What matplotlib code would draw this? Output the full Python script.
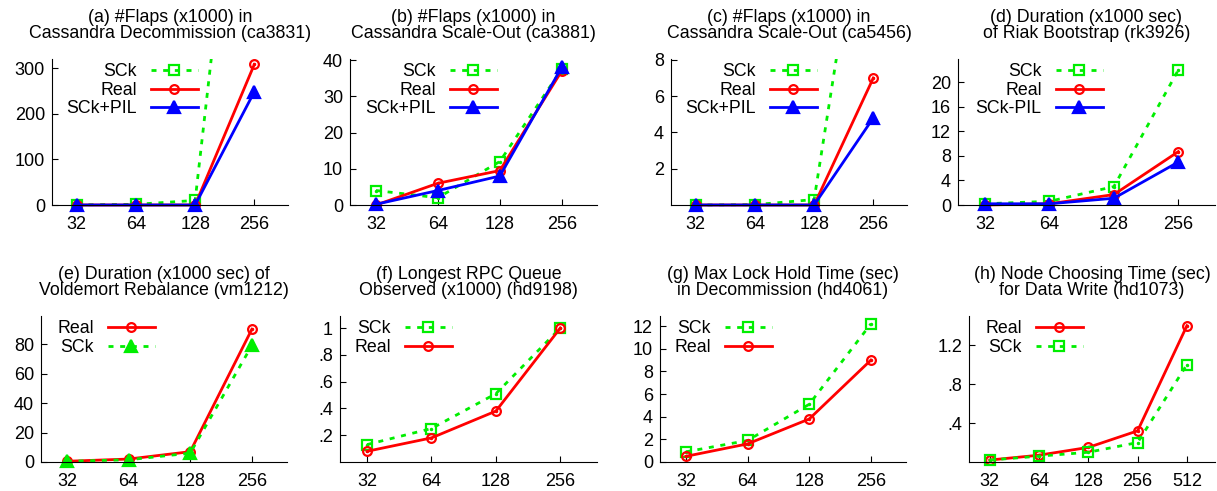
import matplotlib.pyplot as plt
from matplotlib.patches import Rectangle

plt.rcParams["font.family"] = ["Liberation Sans", "DejaVu Sans"]
plt.rcParams["font.size"] = 13

W, H = 1217, 491
TITLE_SIZE = 12.8
LEGEND_SIZE = 12.8

SIZES4 = ["32", "64", "128", "256"]
SIZES5 = ["32", "64", "128", "256", "512"]

# (a) ca3831
CA3831_SCK = [0.5, 1.5, 10, 1150]
CA3831_REAL = [0, 0, 0, 308]
CA3831_PIL = [0, 0, 0, 248]
# (b) ca3881
CA3881_SCK = [4, 2, 12, 37.5]
CA3881_REAL = [0, 6, 9.5, 37]
CA3881_PIL = [0.2, 4, 8, 38]
# (c) ca5456
CA5456_SCK = [0, 0.02, 0.3, 21]
CA5456_REAL = [0, 0, 0, 7]
CA5456_PIL = [0, 0, 0, 4.8]
# (d) rk3926
RK3926_SCK = [0.2, 0.6, 3.0, 22]
RK3926_REAL = [0.0, 0.2, 1.7, 8.7]
RK3926_PIL = [0.2, 0.2, 1.1, 7.0]
# (e) vm1212
VM1212_REAL = [0.5, 2, 7, 90]
VM1212_SCK = [0.5, 1.5, 6, 79]
# (f) hd9198
HD9198_SCK = [0.13, 0.25, 0.51, 1.0]
HD9198_REAL = [0.08, 0.18, 0.38, 1.0]
# (g) hd4061
HD4061_SCK = [0.9, 1.9, 5.1, 12.2]
HD4061_REAL = [0.5, 1.6, 3.8, 9.0]
# (h) hd1073
HD1073_REAL = [0.02, 0.07, 0.15, 0.32, 1.4]
HD1073_SCK = [0.02, 0.06, 0.10, 0.20, 1.0]

GREEN = "#00ee00"
RED = "#ff0000"
BLUE = "#0000ff"

STYLES = {
    "sck": dict(color=GREEN, marker="s", mfc="none", ms=7, dashes=(1.8, 2.4), dot=True),
    "sck_tri": dict(color=GREEN, marker="^", mfc=GREEN, ms=8, dashes=(1.8, 2.4), dot=False),
    "real": dict(color=RED, marker="o", mfc="none", ms=6.3, dashes=None, dot=True),
    "pil": dict(color=BLUE, marker="^", mfc=BLUE, ms=8, dashes=None, dot=False),
}


def draw_panel(fig, box, title, labels, series, ylim, yticks, yticklabels, legend_right):
    left, right, top, bottom = box
    ax = fig.add_axes([left / W, 1 - bottom / H, (right - left) / W, (bottom - top) / H])
    xs = list(range(len(labels)))
    # clip only above the plot area so markers sitting on y=0 stay whole
    clip = Rectangle((-0.1, -0.1), 1.2, 1.1, transform=ax.transAxes)
    for name, values, key in series:
        st = STYLES[key]
        (line,) = ax.plot(xs, values, color=st["color"], lw=2.0, marker=st["marker"],
                          mfc=st["mfc"], mec=st["color"], ms=st["ms"], mew=1.6,
                          label=name)
        if st["dashes"]:
            line.set_dashes(st["dashes"])
        line.set_clip_path(clip)
        if st["dot"]:
            (dot,) = ax.plot(xs, values, ls="none", marker="o", ms=1.5, color=st["color"])
            dot.set_clip_path(clip)
    ax.set_xlim(-0.42, len(labels) - 1 + 0.57)
    ax.set_ylim(*ylim)
    ax.set_xticks(xs)
    ax.set_xticklabels(labels)
    ax.set_yticks(yticks)
    ax.set_yticklabels(yticklabels)
    ax.tick_params(direction="in", length=4, width=0.8)
    ax.tick_params(axis="x", pad=8)
    ax.tick_params(axis="y", pad=5)
    ax.spines["top"].set_visible(False)
    ax.spines["right"].set_visible(False)
    ax.set_title(title, fontsize=TITLE_SIZE, pad=15, linespacing=0.95)
    borderpad = 0.25
    pad_px = borderpad * LEGEND_SIZE * 100 / 72
    anchor_x = (legend_right + pad_px - left) / (right - left)
    ax.legend(loc="upper right", bbox_to_anchor=(anchor_x, 1.0), frameon=False,
              fontsize=LEGEND_SIZE, markerfirst=False, handlelength=2.65,
              borderpad=borderpad, labelspacing=0.08, handletextpad=0.8,
              borderaxespad=0.0)
    return ax


def main() -> None:
    fig = plt.figure(figsize=(W / 100, H / 100), dpi=100)
    r1 = (59, 205)
    r2 = (316, 462)

    draw_panel(fig, (52, 288) + r1, "(a) #Flaps (x1000) in\nCassandra Decommission (ca3831)",
               SIZES4, [("SCk", CA3831_SCK, "sck"), ("Real", CA3831_REAL, "real"),
                        ("SCk+PIL", CA3831_PIL, "pil")],
               (0, 320), [0, 100, 200, 300], ["0", "100", "200", "300"], 198)
    draw_panel(fig, (350, 597) + r1, "(b) #Flaps (x1000) in\nCassandra Scale-Out (ca3881)",
               SIZES4, [("SCk", CA3881_SCK, "sck"), ("Real", CA3881_REAL, "real"),
                        ("SCk+PIL", CA3881_PIL, "pil")],
               (0, 40.3), [0, 10, 20, 30, 40], ["0", "10", "20", "30", "40"], 497)
    draw_panel(fig, (671, 907) + r1, "(c) #Flaps (x1000) in\nCassandra Scale-Out (ca5456)",
               SIZES4, [("SCk", CA5456_SCK, "sck"), ("Real", CA5456_REAL, "real"),
                        ("SCk+PIL", CA5456_PIL, "pil")],
               (0, 8.05), [2, 4, 6, 8], ["2", "4", "6", "8"], 817)
    draw_panel(fig, (958, 1215) + r1, "(d) Duration (x1000 sec)\nof Riak Bootstrap (rk3926)",
               SIZES4, [("SCk", RK3926_SCK, "sck"), ("Real", RK3926_REAL, "real"),
                        ("SCk-PIL", RK3926_PIL, "pil")],
               (0, 23.8), [0, 4, 8, 12, 16, 20], ["0", "4", "8", "12", "16", "20"], 1103)
    draw_panel(fig, (41, 287) + r2, "(e) Duration (x1000 sec) of\nVoldemort Rebalance (vm1212)",
               SIZES4, [("Real", VM1212_REAL, "real"), ("SCk", VM1212_SCK, "sck_tri")],
               (0, 99), [0, 20, 40, 60, 80], ["0", "20", "40", "60", "80"], 155)
    draw_panel(fig, (340, 597) + r2, "(f) Longest RPC Queue\nObserved (x1000) (hd9198)",
               SIZES4, [("SCk", HD9198_SCK, "sck"), ("Real", HD9198_REAL, "real")],
               (0, 1.09), [0.2, 0.4, 0.6, 0.8, 1.0], [".2", ".4", ".6", ".8", "1"], 452)
    draw_panel(fig, (660, 906) + r2, "(g) Max Lock Hold Time (sec)\nin Decommission (hd4061)",
               SIZES4, [("SCk", HD4061_SCK, "sck"), ("Real", HD4061_REAL, "real")],
               (0, 12.9), [0, 2, 4, 6, 8, 10, 12], ["0", "2", "4", "6", "8", "10", "12"], 772)
    draw_panel(fig, (969, 1215) + r2, "(h) Node Choosing Time (sec)\nfor Data Write (hd1073)",
               SIZES5, [("Real", HD1073_REAL, "real"), ("SCk", HD1073_SCK, "sck")],
               (0, 1.5), [0.4, 0.8, 1.2], [".4", ".8", "1.2"], 1083)

    fig.savefig("out.png", dpi=100)
    plt.close(fig)


if __name__ == "__main__":
    main()
